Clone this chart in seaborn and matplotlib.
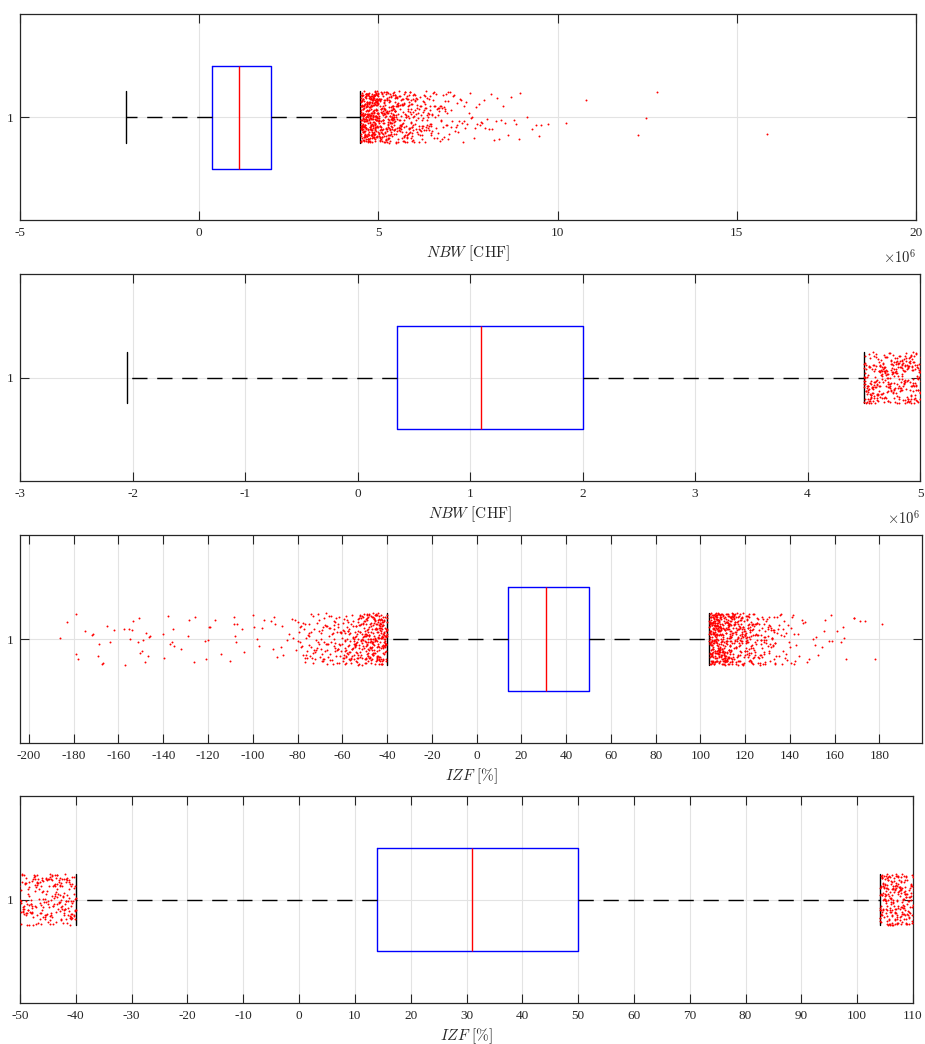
import numpy as np
import pandas as pd
import matplotlib
matplotlib.use('Agg')
import matplotlib.pyplot as plt
import seaborn as sns

# box statistics: lower whisker, q1, median, q3, upper whisker
nbw_box = [-2.05, 0.35, 1.10, 2.00, 4.50]   # Mio. CHF
izf_box = [-40.0, 14.0, 31.0, 50.0, 104.0]  # %

# NBW outliers (Mio. CHF)
nbw_out = [
    4.501, 4.526, 4.549, 4.577, 4.598, 4.624, 4.652, 4.673, 4.701, 4.727, 4.748, 4.776, 4.799, 4.823, 4.851, 4.874, 4.902, 4.926, 4.947, 4.978,
    4.508, 4.534, 4.556, 4.583, 4.611, 4.632, 4.659, 4.684, 4.706, 4.735, 4.757, 4.781, 4.812, 4.833, 4.858, 4.886, 4.909, 4.931, 4.958, 4.986,
    4.503, 4.519, 4.545, 4.569, 4.593, 4.619, 4.641, 4.668, 4.694, 4.718, 4.741, 4.768, 4.792, 4.817, 4.843, 4.866, 4.893, 4.917, 4.941, 4.969,
    4.512, 4.538, 4.563, 4.588, 4.606, 4.637, 4.662, 4.687, 4.713, 4.731, 4.762, 4.788, 4.807, 4.838, 4.861, 4.889, 4.913, 4.936, 4.963, 4.991,
    4.505, 4.529, 4.553, 4.572, 4.602, 4.627, 4.648, 4.676, 4.698, 4.722, 4.753, 4.772, 4.803, 4.827, 4.847, 4.879, 4.898, 4.922, 4.951, 4.973,
    4.515, 4.541, 4.566, 4.591, 4.615, 4.643, 4.666, 4.691, 4.716, 4.743, 4.764, 4.793, 4.816, 4.841, 4.868, 4.891, 4.916, 4.944, 4.967, 4.994,
    4.502, 4.523, 4.547, 4.575, 4.596, 4.621, 4.646, 4.671, 4.697, 4.719, 4.746, 4.771, 4.796, 4.821, 4.846, 4.871, 4.897, 4.921, 4.946, 4.971,
    4.509, 4.532, 4.559, 4.581, 4.608, 4.634, 4.656, 4.682, 4.708, 4.733, 4.759, 4.783, 4.809, 4.836, 4.856, 4.883, 4.907, 4.933, 4.956, 4.983,
    4.504, 4.521, 4.551, 4.567, 4.591, 4.617, 4.644, 4.665, 4.692, 4.714, 4.739, 4.766, 4.789, 4.814, 4.839, 4.864, 4.888, 4.914, 4.939, 4.962,
    4.513, 4.536, 4.561, 4.586, 4.613, 4.639, 4.664, 4.689, 4.711, 4.737, 4.766, 4.786, 4.811, 4.844, 4.866, 4.893, 4.919, 4.943, 4.971, 4.997,
    4.507, 4.531, 4.557, 4.579, 4.604, 4.631, 4.654, 4.679, 4.703, 4.729, 4.754, 4.778, 4.804, 4.829, 4.854, 4.878, 4.904, 4.928, 4.954, 4.979,
    4.514, 4.539, 4.564, 4.589, 4.614, 4.638, 4.663, 4.688, 4.714, 4.739, 4.763, 4.788, 4.813, 4.839, 4.863, 4.888, 4.914, 4.938, 4.963, 4.989,
    4.501, 4.518, 4.543, 4.568, 4.592, 4.618, 4.642, 4.667, 4.693, 4.717, 4.742, 4.767, 4.793, 4.818, 4.842, 4.867, 4.892, 4.918, 4.942, 4.968,
    4.511, 4.527, 4.552, 4.578, 4.601, 4.628, 4.651, 4.677, 4.702, 4.726, 4.751, 4.777, 4.801, 4.826, 4.852, 4.876, 4.901, 4.927, 4.952, 4.976,
    4.506, 4.535, 4.558, 4.584, 4.609, 4.633, 4.658, 4.683, 4.709, 4.732, 4.758, 4.784, 4.808, 4.832, 4.859, 4.882, 4.908, 4.934, 4.957, 4.982,
    4.516, 4.544, 4.568, 4.593, 4.619, 4.644, 4.669, 4.692, 4.718, 4.744, 4.768, 4.794, 4.818, 4.843, 4.869, 4.894, 4.918, 4.942, 4.968, 4.993,
    5.004, 5.028, 5.052, 5.079, 5.101, 5.127, 5.153, 5.176, 5.202, 5.229, 5.251, 5.278, 5.302, 5.326, 5.353, 5.377, 5.401, 5.428, 5.452, 5.476,
    5.012, 5.037, 5.061, 5.086, 5.113, 5.136, 5.162, 5.187, 5.211, 5.238, 5.263, 5.286, 5.313, 5.337, 5.361, 5.389, 5.412, 5.437, 5.463, 5.489,
    5.008, 5.021, 5.046, 5.071, 5.094, 5.119, 5.144, 5.169, 5.196, 5.218, 5.243, 5.269, 5.294, 5.318, 5.344, 5.369, 5.393, 5.418, 5.444, 5.468,
    5.016, 5.042, 5.067, 5.091, 5.117, 5.141, 5.166, 5.192, 5.216, 5.241, 5.267, 5.291, 5.317, 5.342, 5.366, 5.392, 5.416, 5.441, 5.467, 5.493,
    5.002, 5.033, 5.057, 5.083, 5.106, 5.131, 5.158, 5.183, 5.207, 5.232, 5.257, 5.283, 5.308, 5.333, 5.358, 5.383, 5.407, 5.432, 5.458, 5.484,
    5.006, 5.031, 5.056, 5.081, 5.104, 5.129, 5.156, 5.181, 5.204, 5.231, 5.256, 5.281, 5.306, 5.331, 5.356, 5.381, 5.406, 5.431, 5.456, 5.481,
    5.014, 5.039, 5.064, 5.089, 5.114, 5.139, 5.164, 5.189, 5.214, 5.239, 5.264, 5.289, 5.314, 5.339, 5.364, 5.389, 5.414, 5.439, 5.464, 5.491,
    5.001, 5.024, 5.049, 5.074, 5.097, 5.122, 5.147, 5.172, 5.199, 5.222, 5.247, 5.272, 5.297, 5.322, 5.347, 5.372, 5.397, 5.422, 5.447, 5.472,
    5.018, 5.044, 5.069, 5.094, 5.119, 5.144, 5.168, 5.194, 5.219, 5.244, 5.269, 5.294, 5.319, 5.344, 5.369, 5.394, 5.419, 5.444, 5.469, 5.497,
    5.503, 5.528, 5.554, 5.577, 5.603, 5.629, 5.652, 5.678, 5.704, 5.727, 5.753, 5.779, 5.802, 5.828, 5.853, 5.877, 5.904, 5.929, 5.952, 5.978,
    5.511, 5.538, 5.562, 5.588, 5.612, 5.637, 5.663, 5.687, 5.712, 5.738, 5.762, 5.788, 5.813, 5.837, 5.862, 5.889, 5.912, 5.938, 5.963, 5.988,
    5.507, 5.519, 5.546, 5.569, 5.594, 5.621, 5.644, 5.671, 5.696, 5.719, 5.746, 5.771, 5.794, 5.821, 5.846, 5.869, 5.896, 5.921, 5.944, 5.969,
    5.502, 5.526, 5.551, 5.576, 5.601, 5.626, 5.651, 5.676, 5.701, 5.726, 5.751, 5.776, 5.801, 5.826, 5.851, 5.876, 5.901, 5.926, 5.951, 5.976,
    5.514, 5.541, 5.566, 5.591, 5.616, 5.641, 5.666, 5.691, 5.716, 5.741, 5.766, 5.791, 5.816, 5.841, 5.866, 5.891, 5.916, 5.941, 5.966, 5.993,
    5.509, 5.559, 5.609, 5.659, 5.709, 5.759, 5.809, 5.859, 5.909, 5.959,
    6.004, 6.029, 6.053, 6.078, 6.102, 6.127, 6.154, 6.177, 6.203, 6.228, 6.252, 6.279, 6.303, 6.326, 6.354, 6.378, 6.401, 6.428, 6.453, 6.477,
    6.013, 6.038, 6.063, 6.088, 6.114, 6.139, 6.163, 6.188, 6.213, 6.239, 6.264, 6.288, 6.313, 6.338, 6.364, 6.389, 6.413, 6.438, 6.463, 6.489,
    6.008, 6.034, 6.058, 6.083, 6.109, 6.133, 6.158, 6.184, 6.208, 6.234, 6.258, 6.284, 6.308, 6.334, 6.358, 6.384, 6.408, 6.434, 6.458, 6.484,
    6.019, 6.069, 6.119, 6.169, 6.219, 6.269, 6.319, 6.369, 6.419, 6.469,
    6.506, 6.523, 6.541, 6.559, 6.578, 6.594, 6.612, 6.633, 6.649, 6.668, 6.687, 6.702, 6.721, 6.738, 6.756, 6.774, 6.793, 6.811, 6.829, 6.846,
    6.864, 6.883, 6.901, 6.918, 6.937, 6.955, 6.972, 6.991,
    6.515, 6.552, 6.591, 6.627, 6.668, 6.705, 6.742, 6.781, 6.819, 6.857, 6.894, 6.933,
    7.012, 7.034, 7.061, 7.083, 7.108, 7.132, 7.157, 7.181, 7.204, 7.229, 7.253, 7.278, 7.302, 7.327, 7.351, 7.376, 7.401, 7.424, 7.452, 7.477,
    7.518, 7.553, 7.589, 7.622, 7.657, 7.691, 7.728, 7.762, 7.796, 7.831, 7.866, 7.899, 7.934, 7.968,
    8.03, 8.08, 8.13, 8.17, 8.22, 8.27, 8.31, 8.36, 8.42, 8.47,
    8.54, 8.62, 8.69, 8.77, 8.84, 8.92, 8.95,
    9.15, 9.29, 9.41, 9.48, 9.54, 9.73,
    10.23, 10.79, 12.24, 12.47, 12.77, 15.84,
]

# IZF outliers below the lower whisker (%)
izf_out_low = [
    -40.0, -40.3, -40.5, -40.8, -41.0, -41.3, -41.5, -41.8, -42.0, -42.3, -42.5, -42.8, -43.0, -43.3, -43.5, -43.8, -44.0, -44.3, -44.5, -44.8,
    -40.1, -40.4, -40.6, -40.9, -41.1, -41.4, -41.6, -41.9, -42.1, -42.4, -42.6, -42.9, -43.1, -43.4, -43.6, -43.9, -44.1, -44.4, -44.6, -44.9,
    -40.2, -40.4, -40.7, -40.9, -41.2, -41.4, -41.7, -41.9, -42.2, -42.4, -42.7, -42.9, -43.2, -43.4, -43.7, -43.9, -44.2, -44.4, -44.7, -44.9,
    -40.0, -40.2, -40.6, -40.8, -41.1, -41.3, -41.6, -41.8, -42.1, -42.3, -42.6, -42.8, -43.1, -43.3, -43.6, -43.8, -44.1, -44.3, -44.6, -44.8,
    -40.1, -40.7, -41.2, -41.7, -42.2, -42.7, -43.2, -43.7, -44.2, -44.7,
    -40.1, -40.6, -41.1, -41.6, -42.1, -42.6, -43.1, -43.6, -44.1, -44.6, -45.1, -45.6, -46.1, -46.6, -47.1, -47.6, -48.1, -48.6, -49.1, -49.6,
    -40.3, -40.8, -41.3, -41.8, -42.3, -42.8, -43.3, -43.8, -44.3, -44.8, -45.3, -45.8, -46.3, -46.8, -47.3, -47.8, -48.3, -48.8, -49.3, -49.8,
    -40.4, -40.9, -41.4, -41.9, -42.4, -42.9, -43.4, -43.9, -44.4, -44.9, -45.4, -45.9, -46.4, -46.9, -47.4, -47.9, -48.4, -48.9, -49.4, -49.9,
    -45.0, -45.3, -45.5, -45.8, -46.0, -46.3, -46.5, -46.8, -47.0, -47.3, -47.5, -47.8, -48.0, -48.3, -48.5, -48.8, -49.0, -49.3, -49.5, -49.8,
    -45.1, -45.4, -45.6, -45.9, -46.1, -46.4, -46.6, -46.9, -47.1, -47.4, -47.6, -47.9, -48.1, -48.4, -48.6, -48.9, -49.1, -49.4, -49.6, -49.9,
    -45.2, -45.7, -46.2, -46.7, -47.2, -47.7, -48.2, -48.7, -49.2, -49.7, -45.5, -46.0, -46.5, -47.0, -47.5, -48.0, -48.5, -49.0, -49.5, -50.0,
    -45.3, -46.3, -47.3, -48.3, -49.3, -45.9, -46.9, -47.9, -48.9, -49.8,
    -50.2, -50.4, -50.7, -50.9, -51.2, -51.4, -51.7, -51.9, -52.2, -52.4, -52.7, -52.9, -53.2, -53.4, -53.7, -53.9, -54.2, -54.4, -54.7, -54.9,
    -50.1, -50.6, -51.1, -51.6, -52.1, -52.6, -53.1, -53.6, -54.1, -54.6, -50.8, -51.3, -51.8, -52.3, -52.8, -53.3, -53.8, -54.3, -54.8, -55.0,
    -50.5, -51.5, -52.5, -53.5, -54.5, -51.0, -52.0, -53.0, -54.0,
    -50.3, -50.8, -51.3, -51.8, -52.3, -52.8, -53.3, -53.8, -54.3, -54.8, -55.3, -55.8, -56.3, -56.8, -57.3, -57.8, -58.3, -58.8, -59.3, -59.8,
    -50.6, -51.2, -51.9, -52.5, -53.2, -53.8, -54.5, -55.1, -55.8, -56.4, -57.1, -57.7, -58.4, -59.0, -59.7,
    -55.2, -55.5, -55.9, -56.2, -56.6, -56.9, -57.3, -57.6, -58.0, -58.3, -58.7, -59.0, -59.4, -59.7,
    -55.4, -56.0, -56.5, -57.1, -57.5, -58.2, -58.6, -59.2, -59.6, -60.0, -55.7, -56.4, -57.0, -57.8, -58.5, -59.3, -57.4, -58.9,
    -60.3, -60.7, -61.1, -61.5, -61.9, -62.3, -62.7, -63.1, -63.5, -63.9, -64.3, -64.7,
    -60.5, -61.2, -61.8, -62.5, -63.2, -63.8, -64.5, -60.9, -61.6, -62.9, -63.6, -64.9, -62.0, -63.4,
    -60.4, -61.3, -62.2, -63.1, -64.0, -64.9, -65.8, -66.7, -67.6, -68.5, -69.4, -70.3, -71.2, -72.1, -73.0, -73.9, -74.8, -75.7, -76.6, -77.5,
    -78.4, -79.3, -61.7, -63.6, -65.4, -67.3, -69.2, -71.0, -72.9, -74.7, -76.8, -78.9,
    -65.3, -65.8, -66.2, -66.7, -67.1, -67.6, -68.0, -68.5, -68.9, -69.4, -69.8,
    -65.6, -66.4, -67.3, -68.2, -69.1, -65.9, -67.0, -68.7, -69.6, -66.9, -68.4,
    -70.3, -70.9, -71.6, -72.2, -72.8, -73.5, -74.1, -74.7, -70.6, -71.9, -73.1, -74.4, -71.2, -72.5, -73.8, -74.9,
    -75.4, -76.0, -76.8, -77.5, -78.2, -78.9, -79.6, -75.8, -77.1, -78.5, -79.9, -76.4,
    -80.5, -81.0, -82.0, -82.5, -84.0, -84.5, -86.5, -87.0, -87.2, -89.0, -90.0, -90.3, -91.0, -92.0, -95.0,
    -96.0, -97.0, -98.0, -99.5, -100.0, -104.0, -105.0, -107.0, -107.6, -108.0, -108.3, -108.5, -110.0, -114.0,
    -117.0, -119.0, -119.5, -120.0, -121.0, -121.5, -125.8, -126.2, -128.5, -129.0, -132.0, -135.0, -135.6, -136.2,
    -137.0, -138.0, -139.7, -140.2, -145.8, -146.2, -147.0, -147.7, -148.2, -149.0, -149.6, -150.2, -150.8, -151.2,
    -153.4, -153.8, -154.7, -155.2, -157.0, -157.5, -162.0, -164.0, -165.0, -166.8, -167.2, -168.8, -169.2,
    -171.5, -172.0, -175.0, -178.0, -178.8, -179.2, -183.0, -186.0,
]

# IZF outliers above the upper whisker (%)
izf_out_high = [
    104.0, 104.3, 104.5, 104.8, 105.0, 105.3, 105.5, 105.7, 106.0, 106.3, 106.5, 106.8, 107.0, 107.2, 107.5, 107.8, 108.0, 108.2, 108.5, 108.8,
    104.1, 104.4, 104.6, 104.9, 105.1, 105.4, 105.6, 105.9, 106.1, 106.4, 106.6, 106.9, 107.1, 107.4, 107.6, 107.9, 108.1, 108.4, 108.6, 108.9,
    104.2, 104.3, 104.7, 104.8, 105.2, 105.3, 105.7, 105.8, 106.2, 106.3, 106.7, 106.8, 107.2, 107.3, 107.7, 107.8, 108.2, 108.3, 108.7, 108.9,
    104.0, 104.2, 104.5, 104.7, 105.0, 105.2, 105.4, 105.7, 105.9, 106.2, 106.4, 106.7, 106.9, 107.2, 107.4, 107.7, 107.9, 108.2, 108.4, 108.7,
    104.1, 104.4, 104.6, 104.9, 105.1, 105.3, 105.6, 105.8, 106.1, 106.3, 106.6, 106.8, 107.1, 107.3, 107.6, 107.8, 108.1, 108.3, 108.6, 108.8,
    104.3, 104.5, 104.8, 105.0, 105.2, 105.5, 105.7, 106.0, 106.2, 106.5, 106.7, 107.0, 107.2, 107.5, 107.7, 108.0, 108.2, 108.5, 108.7, 109.0,
    104.0, 104.2, 104.4, 104.7, 104.9, 105.2, 105.4, 105.6, 105.9, 106.1, 106.4, 106.6, 106.9, 107.1, 107.3, 107.6, 107.8, 108.1, 108.3, 108.6,
    104.1, 104.3, 104.6, 104.8, 105.1, 105.3, 105.6, 105.8, 106.1, 106.3, 106.6, 106.8, 107.1, 107.3, 107.6, 107.8, 108.1, 108.3, 108.6, 108.8,
    104.2, 104.4, 104.7, 104.9, 105.2, 105.4, 105.7, 105.9, 106.2, 106.4, 106.7, 106.9, 107.2, 107.4, 107.7, 107.9, 108.2, 108.4, 108.7, 108.9,
    104.0, 104.5, 105.0, 105.5, 106.0, 106.5, 107.0, 107.5, 108.0, 108.5, 104.3, 104.8, 105.3, 105.8, 106.3, 106.8, 107.3, 107.8, 108.3, 108.8,
    109.0, 109.3, 109.5, 109.8, 110.0, 110.3, 110.5, 110.8, 111.0, 111.3, 111.5, 111.8, 112.0, 112.3, 112.5, 112.8, 113.0, 113.3, 113.5, 113.8,
    109.1, 109.4, 109.6, 109.9, 110.1, 110.4, 110.6, 110.9, 111.1, 111.4, 111.6, 111.9, 112.1, 112.4, 112.6, 112.9, 113.1, 113.4, 113.6, 113.9,
    109.2, 109.3, 109.7, 109.8, 110.2, 110.3, 110.7, 110.8, 111.2, 111.3, 111.7, 111.8, 112.2, 112.3, 112.7, 112.8, 113.2, 113.3, 113.7, 113.9,
    109.1, 109.2, 109.5, 109.7, 110.0, 110.2, 110.4, 110.7, 110.9, 111.2, 111.4, 111.7, 111.9, 112.2, 112.4, 112.7, 112.9, 113.2, 113.4, 113.7,
    109.3, 109.6, 109.9, 110.1, 110.5, 110.6, 111.0, 111.1, 111.5, 111.6, 112.0, 112.1, 112.5, 112.6, 113.0, 113.1, 113.5, 113.6, 113.8, 114.0,
    109.1, 109.3, 109.6, 109.8, 110.1, 110.3, 110.6, 110.8, 111.1, 111.3, 111.6, 111.8, 112.1, 112.3, 112.6, 112.8, 113.1, 113.3, 113.6, 113.8,
    109.2, 109.4, 109.7, 109.9, 110.2, 110.4, 110.7, 110.9, 111.2, 111.4, 111.7, 111.9, 112.2, 112.4, 112.7, 112.9, 113.2, 113.4, 113.7, 113.9,
    114.1, 114.3, 114.6, 114.8, 115.1, 115.3, 115.6, 115.8, 116.1, 116.3, 116.6, 116.8, 117.1, 117.3, 117.6, 117.8, 118.1, 118.3, 118.6, 118.8,
    114.2, 114.5, 114.7, 115.0, 115.2, 115.5, 115.7, 116.0, 116.2, 116.5, 116.7, 117.0, 117.2, 117.5, 117.7, 118.0, 118.2, 118.5, 118.7, 119.0,
    114.0, 114.4, 114.9, 115.4, 115.9, 116.4, 116.9, 117.4, 117.9, 118.4, 118.9, 114.6, 115.6, 116.6, 117.6, 118.6,
    114.3, 115.2, 116.1, 117.0, 117.9, 118.7,
    114.1, 114.6, 115.1, 115.6, 116.1, 116.6, 117.1, 117.6, 118.1, 118.6, 119.1, 119.6, 120.1, 120.6, 121.1, 121.6, 122.1, 122.6, 123.1, 123.6,
    114.3, 114.8, 115.3, 115.8, 116.3, 116.8, 117.3, 117.8, 118.3, 118.8, 119.3, 119.8, 120.3, 120.8, 121.3, 121.8, 122.3, 122.8, 123.3, 123.8,
    114.4, 115.0, 115.7, 116.4, 117.0, 117.7, 118.4, 119.0, 119.7, 120.4, 121.0, 121.7,
    119.2, 119.4, 119.7, 119.9, 120.2, 120.4, 120.7, 120.9, 121.2, 121.4, 121.7, 121.9, 122.2, 122.4, 122.7, 122.9, 123.2, 123.4, 123.7, 123.9,
    119.1, 119.6, 120.1, 120.6, 121.1, 121.6, 122.1, 122.6, 123.1, 123.6, 119.8, 120.3, 120.8, 121.3, 121.8, 122.3, 122.8, 123.3, 123.8, 124.0,
    119.5, 120.5, 121.5, 122.5, 123.5, 120.0, 121.0, 122.0, 123.0,
    124.2, 124.5, 124.9, 125.2, 125.6, 125.9, 126.3, 126.6, 127.0, 127.3, 127.7, 128.0, 128.4, 128.7, 129.0,
    124.4, 124.8, 125.4, 125.8, 126.1, 126.8, 127.2, 127.5, 128.2, 128.6, 124.6, 125.1, 126.5, 127.9, 128.9, 125.5, 126.9, 128.3,
    124.3, 124.9, 125.6, 126.2, 126.9, 127.5, 128.2, 128.8, 129.5, 130.1, 130.8, 131.4, 132.1, 132.7, 133.4, 125.3, 127.1, 128.5, 130.5, 132.9,
    129.3, 129.7, 130.1, 130.4, 130.8, 131.2, 131.5, 131.9, 132.3, 132.6, 133.0, 133.4, 133.8,
    129.5, 130.2, 130.9, 131.6, 132.1, 132.8, 133.5, 130.6, 131.3, 132.4, 133.2, 134.0,
    134.3, 134.7, 135.1, 135.6, 136.0, 136.4, 136.9, 137.3, 137.7, 138.2, 138.6, 139.0, 134.9, 135.8, 136.7, 137.5, 138.4,
    139.4, 139.9, 140.3, 140.9, 141.4, 141.8, 142.3, 142.9, 143.4, 143.9, 140.6, 142.0,
    145.5, 146.0, 146.8, 147.8, 148.7, 150.2, 151.0, 151.8, 152.7, 154.5, 155.0, 155.8, 157.6, 158.5, 159.0,
    161.0, 163.0, 163.5, 164.0, 165.0, 168.4, 168.8, 171.5, 173.7, 178.0, 181.0,
]

sns.set_style('ticks')
plt.rcParams['font.family'] = ['Liberation Serif', 'DejaVu Serif']
plt.rcParams['mathtext.fontset'] = 'cm'
plt.rcParams['axes.unicode_minus'] = False

np.random.seed(3)

fig = plt.figure(figsize=(9.25, 10.44), dpi=100)
W, H = 925.0, 1044.0


def add_ax(left, right, top, bottom):
    return fig.add_axes([left / W, 1 - bottom / H, (right - left) / W, (bottom - top) / H])


def panel(ax, box, out, xlim, xticks, xlabel, sci=False):
    df = pd.DataFrame({'x': out, 'g': '1'})
    sns.stripplot(data=df, x='x', y='g', ax=ax, color='red', size=1.4,
                  jitter=0.125, linewidth=0, zorder=3)
    st = dict(zip(['whislo', 'q1', 'med', 'q3', 'whishi'], box))
    ax.bxp([st], positions=[0], orientation='horizontal', widths=0.5, capwidths=0.25,
           showfliers=False, manage_ticks=False,
           boxprops=dict(color='#0000ff', lw=1.0),
           medianprops=dict(color='#ff0000', lw=1.0),
           whiskerprops=dict(color='black', lw=1.0, linestyle=(0, (11, 7))),
           capprops=dict(color='black', lw=1.0))
    ax.set_xlim(xlim)
    ax.set_ylim(0.5, -0.5)
    ax.set_xticks(xticks)
    ax.set_xticklabels([str(t) for t in xticks])
    ax.set_yticks([0])
    ax.set_yticklabels(['1'])
    ax.set_ylabel('')
    ax.set_xlabel(xlabel, fontsize=11, labelpad=3)
    ax.grid(True, color='#e3e3e3', lw=0.8)
    ax.set_axisbelow(True)
    ax.tick_params(direction='in', length=6.5, width=0.8, color='#262626',
                   top=True, right=True, labelsize=9.5, labelcolor='#262626', pad=5)
    for s in ax.spines.values():
        s.set_color('#262626')
        s.set_linewidth(0.9)
    if sci:
        ax.text(1.0, -0.135, r'$\times10^{6}$', transform=ax.transAxes,
                ha='right', va='top', fontsize=10.5, color='#262626')


ax1 = add_ax(20, 916, 14, 220)
panel(ax1, nbw_box, nbw_out, (-5, 20), [-5, 0, 5, 10, 15, 20], r'$NBW\ \mathrm{[CHF]}$', sci=True)

ax2 = add_ax(20, 920, 274, 481)
panel(ax2, nbw_box, nbw_out, (-3, 5), [-3, -2, -1, 0, 1, 2, 3, 4, 5], r'$NBW\ \mathrm{[CHF]}$', sci=True)

izf_out = izf_out_low + izf_out_high
ax3 = add_ax(20, 922, 535, 743)
panel(ax3, izf_box, izf_out, (-204, 199), list(range(-200, 181, 20)), r'$IZF\ \mathrm{[\%]}$')

ax4 = add_ax(20, 913, 796, 1003)
panel(ax4, izf_box, izf_out, (-50, 110), list(range(-50, 111, 10)), r'$IZF\ \mathrm{[\%]}$')

fig.savefig('out.png', dpi=100, facecolor='white')
